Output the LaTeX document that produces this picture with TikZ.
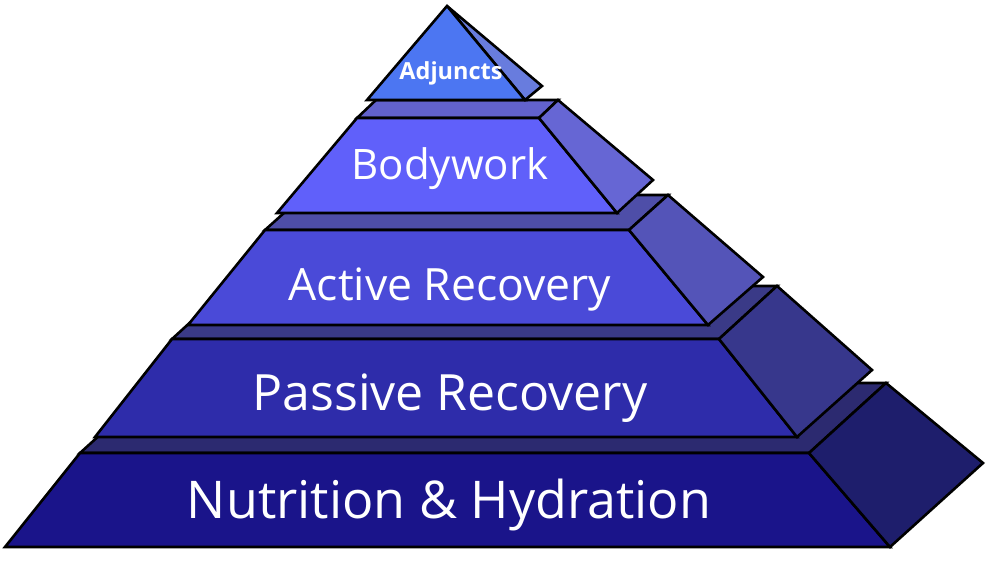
\documentclass[tikz,border=0pt]{standalone}
\usepackage{fontspec}
\setmainfont{Open Sans}
\definecolor{cAfront}{RGB}{26,20,138}
\definecolor{cAtop}{RGB}{44,42,112}
\definecolor{cAside}{RGB}{30,30,108}
\definecolor{cBfront}{RGB}{46,44,170}
\definecolor{cBtop}{RGB}{58,58,135}
\definecolor{cBside}{RGB}{55,55,140}
\definecolor{cCfront}{RGB}{74,74,216}
\definecolor{cCtop}{RGB}{78,78,168}
\definecolor{cCside}{RGB}{84,84,184}
\definecolor{cDfront}{RGB}{96,96,250}
\definecolor{cDtop}{RGB}{98,98,205}
\definecolor{cDside}{RGB}{102,102,212}
\definecolor{cEfront}{RGB}{76,118,242}
\definecolor{cEside}{RGB}{104,124,222}
\begin{document}
\begin{tikzpicture}[x=1pt,y=-1pt,
  face/.style={draw=black, line width=2.6pt, line join=miter, miter limit=3},
  lbl/.style={text=white, anchor=base, inner sep=0pt}]
\useasboundingbox (0,0) rectangle (1000,562);
% ---------- Tier 1: Nutrition & Hydration
\coordinate (a1) at (5,547);
\coordinate (a2) at (890,547);
\coordinate (a3) at (809,453);
\coordinate (a4) at (80,453);
\coordinate (a5) at (886,383);
\coordinate (a6) at (157,383);
\coordinate (a7) at (983,463);
\draw[face, fill=cAtop] (a4) -- (a3) -- (a5) -- (a6) -- cycle;
\draw[face, fill=cAfront] (a1) -- (a2) -- (a3) -- (a4) -- cycle;
\draw[face, fill=cAside] (a3) -- (a5) -- (a7) -- (a2) -- cycle;
\node[lbl, font=\fontsize{52}{60}\selectfont] (nut) at (449,518) {Nutrition \& Hydration};
% ---------- Tier 2: Passive Recovery
\coordinate (b1) at (95,437);
\coordinate (b2) at (797,437);
\coordinate (b3) at (719,339);
\coordinate (b4) at (172,339);
\coordinate (b5) at (777,286);
\coordinate (b6) at (230,286);
\coordinate (b7) at (872,370);
\draw[face, fill=cBtop] (b4) -- (b3) -- (b5) -- (b6) -- cycle;
\draw[face, fill=cBfront] (b1) -- (b2) -- (b3) -- (b4) -- cycle;
\draw[face, fill=cBside] (b3) -- (b5) -- (b7) -- (b2) -- cycle;
\node[lbl, font=\fontsize{50}{60}\selectfont] (pas) at (450,410) {Passive Recovery};
% ---------- Tier 3: Active Recovery
\coordinate (c1) at (188,325);
\coordinate (c2) at (708,325);
\coordinate (c3) at (629,230);
\coordinate (c4) at (265,230);
\coordinate (c5) at (668,195);
\coordinate (c6) at (304,195);
\coordinate (c7) at (763,277);
\draw[face, fill=cCtop] (c4) -- (c3) -- (c5) -- (c6) -- cycle;
\draw[face, fill=cCfront] (c1) -- (c2) -- (c3) -- (c4) -- cycle;
\draw[face, fill=cCside] (c3) -- (c5) -- (c7) -- (c2) -- cycle;
\node[lbl, font=\fontsize{44.5}{54}\selectfont] (act) at (450,300) {Active Recovery};
% ---------- Tier 4: Bodywork
\coordinate (d1) at (277,213);
\coordinate (d2) at (617,213);
\coordinate (d3) at (539,118);
\coordinate (d4) at (357,118);
\coordinate (d5) at (558,100);
\coordinate (d6) at (376,100);
\coordinate (d7) at (653,180);
\draw[face, fill=cDtop] (d4) -- (d3) -- (d5) -- (d6) -- cycle;
\draw[face, fill=cDfront] (d1) -- (d2) -- (d3) -- (d4) -- cycle;
\draw[face, fill=cDside] (d3) -- (d5) -- (d7) -- (d2) -- cycle;
\node[lbl, font=\fontsize{42}{50}\selectfont] (bod) at (450,179) {Bodywork};
% ---------- Tier 5: Adjuncts
\coordinate (e1) at (367,100);
\coordinate (e2) at (525,100);
\coordinate (e3) at (447,6);
\coordinate (e4) at (542,86);
\draw[face, fill=cEside] (e3) -- (e4) -- (e2) -- cycle;
\draw[face, fill=cEfront] (e1) -- (e2) -- (e3) -- cycle;
\node[lbl, font=\fontsize{23.5}{28}\bfseries\selectfont] (adj) at (451,79) {Adjuncts};
\end{tikzpicture}
\end{document}
